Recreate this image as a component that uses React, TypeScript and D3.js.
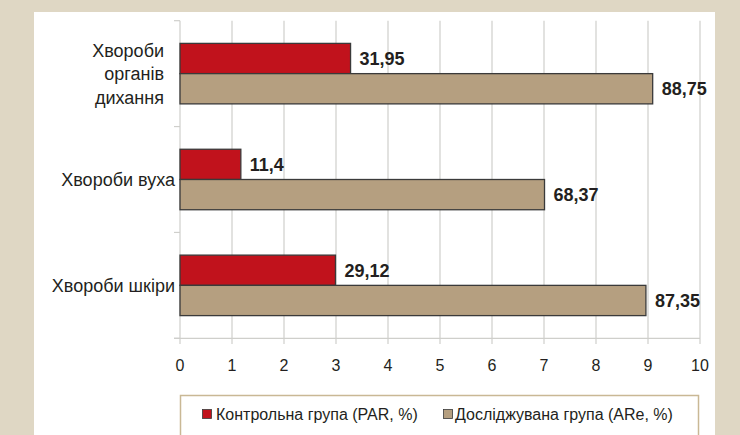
import React from 'react';
import * as d3 from 'd3';

const categories = ['Хвороби органів дихання', 'Хвороби вуха', 'Хвороби шкіри'];
const categoryLines = [['Хвороби', 'органів', 'дихання'], ['Хвороби вуха'], ['Хвороби шкіри']];
const controlValues = [3.28, 1.17, 2.99];
const studyValues = [9.09, 7.01, 8.96];
const controlLabels = ['31,95', '11,4', '29,12'];
const studyLabels = ['88,75', '68,37', '87,35'];
const xTicks = [0, 1, 2, 3, 4, 5, 6, 7, 8, 9, 10];
const seriesNames = ['Контрольна група (PAR, %)', 'Досліджувана група (ARe, %)'];
const seriesColors = ['#c1121c', '#b59f80'];

const W = 740;
const H = 435;
const FONT = '"Liberation Sans", Arial, Helvetica, sans-serif';

export default function App() {
  const x = d3.scaleLinear().domain([0, 10]).range([180, 700]);
  const y = d3.scaleBand<string>().domain(categories).range([20.7, 338.3]);
  const bh = (y.bandwidth() * 2) / 7;
  const gridColor = '#cfcfcb';
  const textColor = '#231f20';
  const boundaries = [0, 1, 2, 3].map((i) => 20.7 + i * y.bandwidth());

  return (
    <div style={{ position: 'absolute', left: 0, top: 0 }}>
      <svg width={W} height={H} style={{ display: 'block' }}>
        <rect x={0} y={0} width={W} height={H} fill="#dfd7c4" />
        <rect x={34} y={12} width={681} height={H} fill="#ffffff" />
        {/* vertical gridlines + bottom ticks */}
        {xTicks.map((t) => (
          <line key={'g' + t} x1={x(t)} x2={x(t)} y1={20.7} y2={344} stroke={gridColor} strokeWidth={1.2} />
        ))}
        {/* axis line */}
        <line x1={174} x2={700} y1={338.3} y2={338.3} stroke={gridColor} strokeWidth={1.2} />
        {/* category boundary ticks */}
        {boundaries.map((b, i) => (
          <line key={'b' + i} x1={174} x2={180} y1={b} y2={b} stroke={gridColor} strokeWidth={1.2} />
        ))}
        {/* tick labels */}
        {xTicks.map((t) => (
          <text key={'t' + t} x={x(t)} y={371} textAnchor="middle" fontFamily={FONT} fontSize={16} fill={textColor}>
            {t}
          </text>
        ))}
        {/* bars */}
        {categories.map((c, i) => {
          const cy = (y(c) as number) + y.bandwidth() / 2;
          return (
            <g key={'bar' + i}>
              <rect x={x(0)} y={cy - bh} width={x(controlValues[i]) - x(0)} height={bh} fill={seriesColors[0]} stroke="#3a3a3a" strokeWidth={1.3} />
              <rect x={x(0)} y={cy} width={x(studyValues[i]) - x(0)} height={bh} fill={seriesColors[1]} stroke="#3a3a3a" strokeWidth={1.3} />
              <text x={x(controlValues[i]) + 9} y={cy - bh / 2 + 6.4} fontFamily={FONT} fontSize={18} fontWeight="bold" fill={textColor}>
                {controlLabels[i]}
              </text>
              <text x={x(studyValues[i]) + 9} y={cy + bh / 2 + 6.4} fontFamily={FONT} fontSize={18} fontWeight="bold" fill={textColor}>
                {studyLabels[i]}
              </text>
            </g>
          );
        })}
        {/* category labels */}
        {categories.map((c, i) => {
          const cy = (y(c) as number) + y.bandwidth() / 2;
          const lines = categoryLines[i];
          const lx = lines.length > 1 ? x(0) - 16 : x(0) - 5;
          const lh = 23.5;
          return (
            <text key={'c' + i} textAnchor="end" fontFamily={FONT} fontSize={18} fill={textColor}>
              {lines.map((ln, j) => (
                <tspan key={j} x={lx} y={cy + (j - (lines.length - 1) / 2) * lh + 6.4}>
                  {ln}
                </tspan>
              ))}
            </text>
          );
        })}
        {/* legend */}
        <rect x={180.5} y={395.5} width={518} height={45} fill="#ffffff" stroke="#c9b895" strokeWidth={1.5} />
        {[
          { sx: 202.5, tx: 216 },
          { sx: 443.5, tx: 455 },
        ].map((p, i) => (
          <g key={'l' + i}>
            <rect x={p.sx} y={409.5} width={9} height={9} fill={seriesColors[i]} stroke="#3a3a3a" strokeWidth={0.8} />
            <text x={p.tx} y={420} fontFamily={FONT} fontSize={16} fill={textColor}>
              {seriesNames[i]}
            </text>
          </g>
        ))}
      </svg>
    </div>
  );
}
